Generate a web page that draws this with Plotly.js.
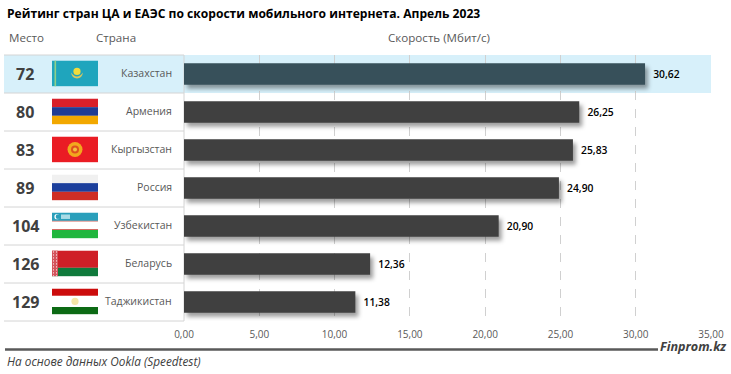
<!DOCTYPE html>
<html><head><meta charset="utf-8">
<script src="https://cdn.plot.ly/plotly-3.0.1.min.js"></script>
<style>
html,body{margin:0;padding:0;background:#fff}
#chart{width:731px;height:374px}
.bars .point path{filter:drop-shadow(3px 4px 2px rgba(0,0,0,.38))}
</style></head><body><div id="chart"></div>
<script>
const countries=["Казахстан","Армения","Кыргызстан","Россия","Узбекистан","Беларусь","Таджикистан"];
const ranks=[72,80,83,89,104,126,129];
const speeds=[30.62,26.25,25.83,24.90,20.90,12.36,11.38];
const barColors=["#37505a","#404040","#404040","#404040","#404040","#404040","#404040"];
const tickValues=[0,5,10,15,20,25,30,35];

const svg=(body)=>"data:image/svg+xml;charset=utf-8,"+encodeURIComponent('<svg xmlns="http://www.w3.org/2000/svg" width="46" height="26" viewBox="0 0 46 26">'+body+'</svg>');
const flags=[
 svg('<rect width="46" height="26" fill="#1fa5bd"/><rect x="2.5" width="1.6" height="26" fill="#8fd08a"/><circle cx="25" cy="11" r="3.6" fill="#f2dc3c"/><path d="M19 12q6 8 12 0q-1 6-6 6t-6-6z" fill="#d8c860"/>'),
 svg('<rect width="46" height="8.7" fill="#d9202a"/><rect y="8.7" width="46" height="8.7" fill="#1f3c94"/><rect y="17.4" width="46" height="8.6" fill="#f2a800"/>'),
 svg('<rect width="46" height="26" fill="#ea1c24"/><circle cx="23" cy="13" r="7.5" fill="#f2a81d"/><circle cx="23" cy="13" r="4" fill="#e0501f"/><circle cx="23" cy="13" r="2" fill="#f2c040"/>'),
 svg('<rect width="46" height="8.7" fill="#f0f0f0"/><rect y="8.7" width="46" height="8.7" fill="#1c3f9c"/><rect y="17.4" width="46" height="8.6" fill="#cf2e25"/>'),
 svg('<rect width="46" height="8.4" fill="#2a9fbb"/><rect y="8.4" width="46" height=".8" fill="#c8443c"/><rect y="9.2" width="46" height="7.6" fill="#fff"/><rect y="16.8" width="46" height=".8" fill="#c8443c"/><rect y="17.6" width="46" height="8.4" fill="#20b63e"/><circle cx="5" cy="4.2" r="2.6" fill="#fff"/><circle cx="6" cy="4.2" r="2.3" fill="#2a9fbb"/><rect x="9" y="2" width="9" height="4.5" fill="#a9dbe6"/>'),
 svg('<defs><pattern id="p" width="3" height="3" patternUnits="userSpaceOnUse"><rect width="3" height="3" fill="#d4545c"/><rect x="1" y="1" width="1" height="1" fill="#fff"/></pattern></defs><rect width="46" height="17.4" fill="#cf1f27"/><rect y="17.4" width="46" height="8.6" fill="#107a3c"/><rect width="6" height="26" fill="url(#p)"/>'),
 svg('<rect width="46" height="7.4" fill="#cc0c0c"/><rect y="7.4" width="46" height="11.2" fill="#fff"/><rect y="18.6" width="46" height="7.4" fill="#0c6a14"/><circle cx="23" cy="13" r="3.6" fill="#f5e6a8"/>')
];

const W=731,H=374,L=184,R=711,T=54.5,B=321.5;
const px=v=>(v-L)/(R-L), py=v=>(B-v)/(B-T);
const rowH=(B-T)/countries.length;
const rowTop=i=>T+i*rowH;
const border="#d4d4d4";

const shapes=[
 {type:"rect",xref:"paper",yref:"paper",x0:px(4),x1:px(R),y0:py(rowTop(1)),y1:py(T),fillcolor:"#d7f0fa",line:{width:0},layer:"below"}
];
countries.forEach((c,i)=>{
 shapes.push({type:"line",xref:"paper",yref:"paper",x0:px(4),x1:px(184),y0:py(rowTop(i+1)),y1:py(rowTop(i+1)),line:{color:border,width:1},layer:"below"});
});
shapes.push({type:"line",xref:"paper",yref:"paper",x0:px(4),x1:px(184),y0:py(T),y1:py(T),line:{color:border,width:1},layer:"below"});
shapes.push({type:"line",xref:"paper",yref:"paper",x0:px(184),x1:px(184),y0:py(T),y1:py(B),line:{color:border,width:1},layer:"below"});
shapes.push({type:"line",xref:"paper",yref:"paper",x0:px(5),x1:px(658),y0:py(350),y1:py(350),line:{color:"#595959",width:2.5}});

const images=flags.map((src,i)=>({source:src,xref:"paper",yref:"paper",x:px(52),y:py(rowTop(i)+5.5),sizex:46/(R-L),sizey:26/(B-T),sizing:"stretch",xanchor:"left",yanchor:"top",layer:"above"}));

const font="'Open Sans',sans-serif";
const ann=(x,y,text,size,color,anchor,extra)=>Object.assign({xref:"paper",yref:"paper",x:px(x),y:py(y),text,showarrow:false,xanchor:anchor,yanchor:"middle",font:{family:font,size,color},borderpad:0,align:anchor},extra||{});
const annotations=[
 ann(6,13,"<b>Рейтинг стран ЦА и ЕАЭС по скорости мобильного интернета. Апрель 2023</b>",12.1,"#000","left"),
 ann(8,37,"Место",11.6,"#595959","left"),
 ann(95,37,"Страна",11.6,"#595959","left"),
 ann(387,37,"Скорость (Мбит/с)",11.6,"#595959","left"),
 ann(6,362,"<i>На основе данных Ookla (Speedtest)</i>",11.8,"#404040","left"),
 ann(659,347,"<b><i>Finprom.kz</i></b>",12.6,"#404040","left")
];
countries.forEach((c,i)=>{
 const yc=rowTop(i)+rowH/2;
 annotations.push(ann(25,yc,"<b>"+ranks[i]+"</b>",16,"#404040","center"));
 annotations.push(ann(172.5,yc-1,c,10.5,"#595959","right"));
});

Plotly.newPlot("chart",[{
 type:"bar",orientation:"h",x:speeds,y:countries,
 marker:{color:barColors,line:{width:0}},
 texttemplate:"\u2002%{x:.2f}",textposition:"outside",cliponaxis:false,
 textfont:{family:font,size:10.3,color:"#000",weight:600},
 hoverinfo:"skip"
}],{
 width:W,height:H,margin:{l:L,r:W-R,t:T,b:H-B},
 paper_bgcolor:"rgba(0,0,0,0)",plot_bgcolor:"rgba(0,0,0,0)",
 separators:", ",showlegend:false,bargap:0.44,
 xaxis:{range:[0,35],tickvals:tickValues,tickformat:".2f",showgrid:true,gridcolor:"#d0d0d0",griddash:"dash",gridwidth:1,zeroline:false,showline:false,ticks:"",
  tickfont:{family:font,size:10,color:"#595959"},ticklabelstandoff:6},
 yaxis:{autorange:"reversed",type:"category",showticklabels:false,showgrid:false,zeroline:false,showline:false,ticks:""},
 shapes,images,annotations
},{displayModeBar:false,staticPlot:true});
</script></body></html>
